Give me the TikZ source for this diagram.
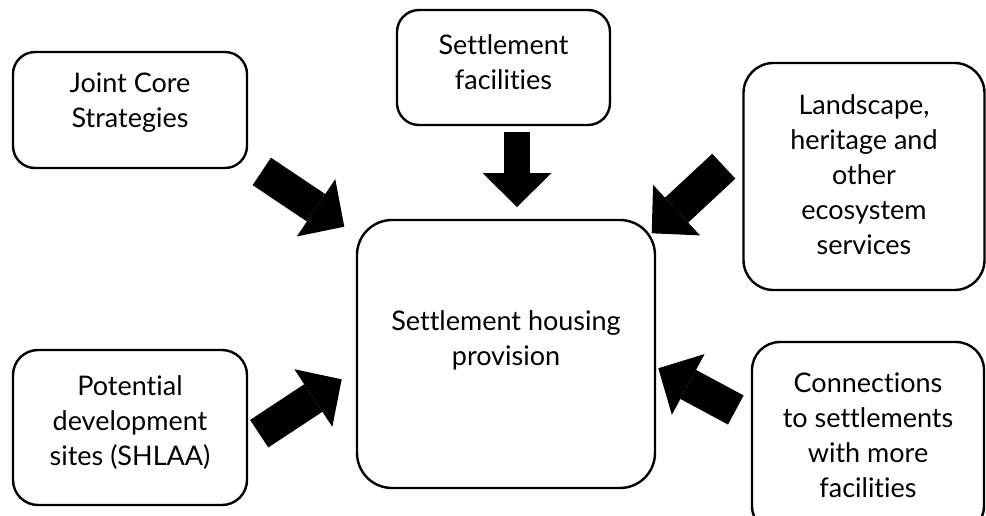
\documentclass[tikz,border=0pt]{standalone}
\usepackage{fontspec}
\setmainfont{Lato}[Ligatures=CommonOff]
\usetikzlibrary{arrows.meta}

\begin{document}
\begin{tikzpicture}
[x=1pt,y=-1pt,
  boxdecorate/.style={draw,line width=2.4pt,fill=white,inner sep=0pt},%
  textdecorate/.style={align=center,inner sep=0pt,font=\fontsize{27}{35}\selectfont},%
  arrowdecorate/.style={-{Triangle[length=34pt,width=69pt,line width=0pt]}}]
\useasboundingbox (0,0) rectangle (986,515);
%% boxes and their texts
\foreach \name/\x/\y/\w/\h/\r/\ty/\txt in {
  jcs/130/110/234/116/22/103/{Joint Core\\Strategies},
  fac/503.5/67.5/213/115/22/62/{Settlement\\facilities},
  land/864/176.5/241/227/30/175/{Landscape,\\heritage and\\other\\ecosystem\\services},
  sites/130/427.5/234/155/25/423/{Potential\\development\\sites (SHLAA)},
  conn/868/438/232/192/28/435/{Connections\\to settlements\\with more\\facilities},
  hub/506/354/298/268/35/340/{Settlement housing\\provision}}
{
  \node[boxdecorate,minimum width=\w pt,minimum height=\h pt,rounded corners=\r pt] (\name) at (\x,\y) {};
  \node[textdecorate] (\name-text) at (\x,\ty) {\txt};
}
%% arrow ends
\foreach \name/\xa/\ya/\xb/\yb in {jcs/261.8/171.4/344.3/226.7, fac/517/132/517/207,
  land/723.8/166.2/651.7/233.3, sites/259.2/433.7/341.7/379.3,
  conn/735.8/410/658.3/368.3}
{
  \coordinate (\name-tail) at (\xa,\ya);
  \coordinate (\name-tip) at (\xb,\yb);
}
%% block arrows
\foreach \name/\lw in {jcs/33, fac/26, land/34, sites/33, conn/33}
{
  \draw[arrowdecorate,line width=\lw pt] (\name-tail) -- (\name-tip);
}
\end{tikzpicture}
\end{document}
